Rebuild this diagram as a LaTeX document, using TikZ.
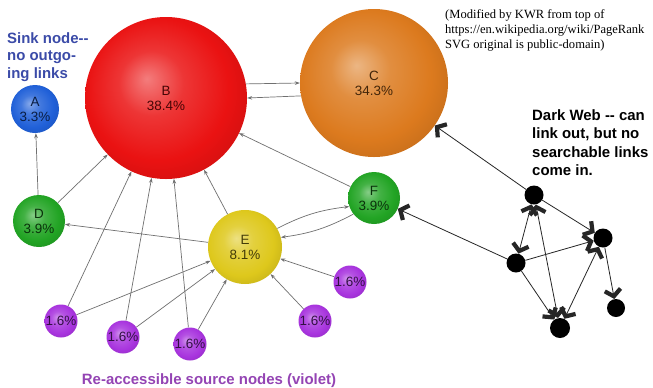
\documentclass[tikz,border=0pt]{standalone}
\usepackage{fontspec}
\setmainfont{Liberation Sans}
\newfontfamily\attribfont{Liberation Serif}
\usetikzlibrary{arrows.meta}
\definecolor{ballbase}{HTML}{E81010}
\definecolor{cA}{HTML}{2060D8}
\definecolor{cB}{HTML}{EA1212}
\definecolor{cC}{HTML}{DC7A1E}
\definecolor{cG}{HTML}{22A424}
\definecolor{cE}{HTML}{DEC81C}
\definecolor{cV}{HTML}{A834DE}
\definecolor{sinkblue}{HTML}{3B4BA8}
\definecolor{violettext}{HTML}{9444B4}
\definecolor{edgegray}{HTML}{707070}
\pgfdeclareradialshading[ballbase]{myball}{\pgfpoint{-6bp}{6bp}}{%
  color(0bp)=(ballbase!55!white);
  color(10bp)=(ballbase!85!white);
  color(22bp)=(ballbase);
  color(32bp)=(ballbase!87!black);
  color(40bp)=(ballbase!82!black)}
\tikzset{
  gtip/.tip={Stealth[length=5bp,width=3.6bp]},
  kbarb/.tip={Straight Barb[length=6.5bp,width=16bp,line width=4.2bp]},
  ballnode/.style 2 args={circle, inner sep=0pt, minimum size=#2,
    /utils/exec={\colorlet{ballbase}{#1}}, shade, shading=myball,
    text=#1!30!black, align=center,
    font=\fontsize{13.5}{15}\selectfont},
  knode/.style={circle, fill=black, inner sep=0pt, minimum size=#1},
  edge/.style={draw=edgegray, line width=0.7bp, -gtip},
  kedge/.style={draw=black!85, line width=0.8bp, -kbarb},
  kedge2/.style={draw=black!85, line width=0.8bp, kbarb-kbarb},
  bigtext/.style={inner sep=0pt, align=left, font=\bfseries\fontsize{15}{18}\selectfont}
}
\begin{document}
\begin{tikzpicture}[x=1bp,y=-1bp]
\useasboundingbox[fill=white] (0,0) rectangle (653,387);
% main nodes
\node[ballnode={cA}{48bp}] (A) at (35,109) {A\\3.3\%};
\node[ballnode={cB}{162bp}] (B) at (166,98) {B\\38.4\%};
\node[ballnode={cC}{148bp}] (C) at (374,83) {C\\34.3\%};
\node[ballnode={cG}{52bp}] (D) at (39,221) {D\\3.9\%};
\node[ballnode={cE}{74bp}] (E) at (245,247) {E\\8.1\%};
\node[ballnode={cG}{52bp}] (F) at (374,198) {F\\3.9\%};
\node[ballnode={cV}{33bp}] (V1) at (61,321) {1.6\%};
\node[ballnode={cV}{33bp}] (V2) at (123,337) {1.6\%};
\node[ballnode={cV}{33bp}] (V3) at (190,344) {1.6\%};
\node[ballnode={cV}{33bp}] (V4) at (315,321) {1.6\%};
\node[ballnode={cV}{33bp}] (V5) at (350,282) {1.6\%};
% dark web nodes
\node[knode=19bp] (K1) at (534,195) {};
\node[knode=19bp] (K2) at (603,238) {};
\node[knode=19bp] (K3) at (516,263) {};
\node[knode=20bp] (K4) at (560,328) {};
\node[knode=18bp] (K5) at (616,308) {};
% gray edges
\draw[edge] (D) -- (A);
\draw[edge] (D) -- (B);
\draw[edge] (E) -- (D);
\draw[edge] (E) -- (B);
\draw[edge] (F) -- (B);
\draw[edge] (V1) -- (B);
\draw[edge] (V2) -- (B);
\draw[edge] (V3) -- (B);
\draw[edge] (V1) -- (E);
\draw[edge] (V2) -- (E);
\draw[edge] (V3) -- (E);
\draw[edge] (V4) -- (E);
\draw[edge] (V5) -- (E);
\draw[edge] (B.10) -- (C.180);
\draw[edge] (C.190) -- (B.0);
\draw[edge] (E.30) to[bend left=10] (F.199);
\draw[edge] (F.218) to[bend left=10] (E.15);
% dark web edges
\draw[kedge] (K1) -- (C);
\draw[kedge] (K3) -- (F);
\draw[kedge2] (K1) -- (K3);
\draw[kedge2] (K1) -- (K4);
\draw[kedge] (K1) -- (K2);
\draw[kedge] (K3) -- (K2);
\draw[kedge2] (K2) -- (K4);
\draw[kedge] (K3) -- (K4);
\draw[kedge] (K2) -- (K5);
% texts (base anchor = baseline of last line)
\node[bigtext, text=sinkblue, anchor=base west, font=\bfseries\fontsize{15}{17.5}\selectfont] (sink) at (7,78) {Sink node-{}-\\no outgo-\\ing links};
\node[bigtext, text=black, anchor=base west, font=\bfseries\fontsize{15}{18.5}\selectfont] (dark) at (532,175.5) {Dark Web -{}- can\\link out, but no\\searchable links\\come in.};
\node[inner sep=0pt, align=left, anchor=base west, font=\attribfont\fontsize{12.6}{15}\selectfont] (attrib) at (445,48) {(Modified by KWR from top of\\https://en.wikipedia.org/wiki/PageRank\\SVG original is public-domain)};
\node[bigtext, text=violettext, anchor=base] (violet) at (209,384) {Re-accessible source nodes (violet)};
\end{tikzpicture}
\end{document}
